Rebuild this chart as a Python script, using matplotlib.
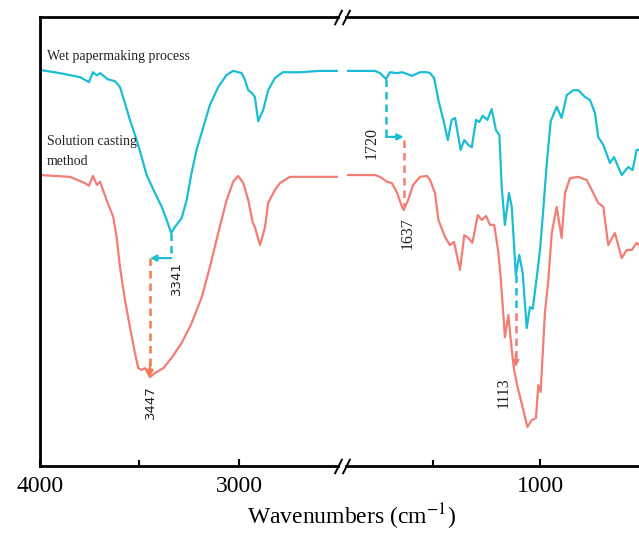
import matplotlib.pyplot as plt

plt.rcParams['font.family'] = ['Liberation Serif', 'DejaVu Serif']
plt.rcParams['mathtext.fontset'] = 'stix'

cyan = '#1BBDD2'
red = '#F27D75'
orange = '#F47C48'

# FTIR spectra, transmittance (a.u.)
# high wavenumber part (4000-2500)
wet_wn_hi = [4000, 3900, 3799, 3754, 3734, 3714, 3698, 3678, 3658, 3623, 3598, 3573,
             3548, 3514, 3489, 3464, 3422, 3388, 3363, 3341, 3322, 3288, 3263, 3238,
             3213, 3179, 3146, 3104, 3062, 3029, 2986, 2970, 2953, 2936, 2920, 2903,
             2878, 2853, 2819, 2779, 2693, 2593, 2508]
wet_t_hi = [88.2, 87.5, 86.6, 85.5, 87.7, 87.0, 87.5, 86.8, 86.1, 85.7, 84.4, 80.8,
            77.1, 72.6, 68.8, 64.8, 60.8, 57.7, 54.8, 51.9, 53.2, 55.2, 59.2, 65.3,
            70.4, 75.5, 80.4, 84.4, 87.1, 88.0, 87.5, 86.0, 83.7, 83.1, 82.2, 76.8,
            79.3, 83.7, 86.4, 87.7, 87.7, 88.0, 88.0]

sol_wn_hi = [4000, 3849, 3774, 3754, 3734, 3714, 3698, 3665, 3632, 3615, 3598, 3573,
             3548, 3523, 3506, 3489, 3472, 3447, 3422, 3380, 3338, 3288, 3238, 3187,
             3146, 3104, 3062, 3029, 3004, 2978, 2953, 2931, 2920, 2894, 2869, 2853,
             2819, 2794, 2744, 2508]
sol_t_hi = [64.8, 64.4, 63.0, 62.4, 64.6, 62.6, 63.3, 59.2, 55.5, 51.0, 44.3, 37.0,
            31.0, 25.2, 21.8, 21.4, 21.8, 19.8, 20.7, 21.8, 24.1, 27.4, 31.8, 37.6,
            44.3, 51.9, 59.2, 63.3, 64.6, 63.0, 59.2, 54.3, 53.2, 49.2, 53.2, 58.6,
            61.5, 63.0, 64.4, 64.4]

# low wavenumber part (1900-540)
wet_wn_lo = [1897, 1771, 1748, 1720, 1701, 1668, 1645, 1622, 1598, 1561, 1528, 1514,
             1495, 1475, 1452, 1431, 1413, 1397, 1371, 1354, 1335, 1319, 1299, 1284,
             1268, 1246, 1226, 1206, 1190, 1179, 1164, 1145, 1132, 1113, 1097, 1081,
             1062, 1047, 1034, 1015, 1000, 985, 969, 950, 922, 899, 875, 844,
             821, 790, 766, 743, 728, 704, 673, 654, 618, 587, 567, 548, 537]
wet_t_lo = [88.0, 88.0, 87.5, 86.2, 87.7, 87.5, 87.7, 87.3, 86.9, 87.7, 87.7, 87.5,
            86.4, 81.5, 77.1, 72.6, 77.1, 77.5, 70.4, 72.6, 71.5, 71.0, 77.1, 76.6,
            78.0, 77.1, 79.5, 74.8, 73.7, 62.1, 53.7, 60.8, 57.7, 42.5, 47.0, 43.0,
            30.7, 35.4, 35.0, 42.1, 48.1, 57.0, 67.0, 76.8, 80.0, 77.5, 82.6, 83.7,
            83.7, 82.2, 81.5, 78.6, 73.3, 71.5, 67.5, 68.8, 64.8, 66.6, 65.9, 70.4, 70.4]

sol_wn_lo = [1897, 1771, 1748, 1715, 1692, 1668, 1645, 1637, 1617, 1593, 1561, 1528,
             1514, 1491, 1475, 1444, 1421, 1402, 1374, 1354, 1335, 1316, 1291, 1272,
             1252, 1234, 1214, 1195, 1184, 1164, 1148, 1132, 1121, 1105, 1086, 1059,
             1039, 1019, 1008, 997, 977, 961, 945, 922, 899, 883, 860, 821,
             782, 751, 728, 704, 681, 650, 618, 595, 571, 548, 537]
sol_t_lo = [64.8, 64.8, 64.4, 63.3, 63.0, 60.8, 57.7, 57.0, 59.2, 62.6, 64.4, 64.6,
            63.7, 60.8, 54.8, 51.0, 49.2, 49.9, 43.7, 51.4, 50.8, 49.7, 55.9, 54.8,
            55.7, 53.7, 53.7, 47.7, 42.1, 28.7, 33.6, 25.8, 21.4, 17.6, 14.0, 8.7,
            10.2, 10.7, 18.0, 16.5, 34.1, 41.4, 51.9, 57.7, 50.8, 60.8, 64.1, 64.4,
            63.7, 60.8, 58.6, 57.7, 49.2, 51.9, 46.3, 48.1, 48.1, 49.7, 49.2]

W, H = 639, 533
fig = plt.figure(figsize=(W / 100, H / 100), dpi=100)
# two axes side by side make the broken wavenumber axis
ax1 = fig.add_axes([40 / W, 67 / H, 298 / W, 449 / H])
ax2 = fig.add_axes([346 / W, 67 / H, 314 / W, 449 / H])

ax1.plot(wet_wn_hi, wet_t_hi, color=cyan, lw=1.6)
ax1.plot(sol_wn_hi, sol_t_hi, color=red, lw=1.6)
ax2.plot(wet_wn_lo, wet_t_lo, color=cyan, lw=1.6)
ax2.plot(sol_wn_lo, sol_t_lo, color=red, lw=1.6)

ax1.set_xlim(4000, 2502)
ax2.set_xlim(1907, 439)
for ax in (ax1, ax2):
    ax.set_ylim(0, 100)
    ax.set_yticks([])
    ax.tick_params(axis='x', which='both', direction='in', width=1.5, pad=7, labelsize=17)
    ax.tick_params(axis='x', which='major', length=5)
    ax.tick_params(axis='x', which='minor', length=4)
    for s in ax.spines.values():
        s.set_linewidth(2)
ax1.spines['right'].set_visible(False)
ax2.spines['left'].set_visible(False)
ax2.spines['right'].set_visible(False)
ax1.set_xticks([4000, 3000])
ax1.set_xticks([3500], minor=True)
ax2.set_xticks([1000])
ax2.set_xticks([1500, 500], minor=True)

# break marks //
kw = dict(marker=[(-1, -2), (1, 2)], markersize=11, linestyle='none',
          color='k', mec='k', mew=1.4, clip_on=False)
ax1.plot([1, 1], [0, 1], transform=ax1.transAxes, **kw)
ax2.plot([0, 0], [0, 1], transform=ax2.transAxes, **kw)

dash = dict(lw=1.8, linestyle=(0, (3, 2)))
head = dict(arrowstyle='-|>', mutation_scale=9, lw=1.6, shrinkA=0, shrinkB=0)

# 3341 -> 3447
ax1.plot([3341, 3341], [51.9, 46.3], color=cyan, **dash)
ax1.annotate('', xy=(3447, 46.3), xytext=(3341, 46.3),
             arrowprops=dict(color=cyan, **head))
ax1.plot([3447, 3447], [46.3, 22], color=orange, **dash)
ax1.annotate('', xy=(3447, 19.8), xytext=(3447, 23),
             arrowprops=dict(color=orange, **head))
ax1.text(3316, 41.9, '3341', rotation=90, ha='center', va='center',
         fontsize=9.5, family='DejaVu Sans', color='#222222')
ax1.text(3447, 14.3, '3447', rotation=90, ha='center', va='center',
         fontsize=9.5, family='DejaVu Sans', color='#222222')

# 1720 -> 1637
ax2.plot([1720, 1720], [86.2, 73.3], color=cyan, **dash)
ax2.annotate('', xy=(1637, 73.3), xytext=(1720, 73.3),
             arrowprops=dict(color=cyan, **head))
ax2.plot([1637, 1637], [72.6, 58], color=red, **dash)
ax2.text(1785, 71.9, '1720', rotation=90, ha='center', va='center',
         fontsize=11.5, color='#222222')
ax2.text(1621, 51.9, '1637', rotation=90, ha='center', va='center',
         fontsize=11.5, color='#222222')

# 1113
ax2.plot([1113, 1113], [42.5, 34.1], color=cyan, **dash)
ax2.plot([1113, 1113], [34.1, 24], color=red, **dash)
ax2.annotate('', xy=(1113, 22.0), xytext=(1113, 25),
             arrowprops=dict(color=red, **head))
ax2.text(1168, 16.3, '1113', rotation=90, ha='center', va='center',
         fontsize=11.5, color='#222222')

ax1.text(3965, 91.3, 'Wet papermaking process', fontsize=10, va='center', color='#222222')
ax1.text(3965, 72.3, 'Solution casting', fontsize=10, va='center', color='#222222')
ax1.text(3965, 67.9, 'method', fontsize=10, va='center', color='#222222')

fig.text(352 / W, 1 - 517 / H, 'Wavenumbers (cm$^{-1}$)', fontsize=17,
         ha='center', va='center')

fig.savefig('out.png', dpi=100)
